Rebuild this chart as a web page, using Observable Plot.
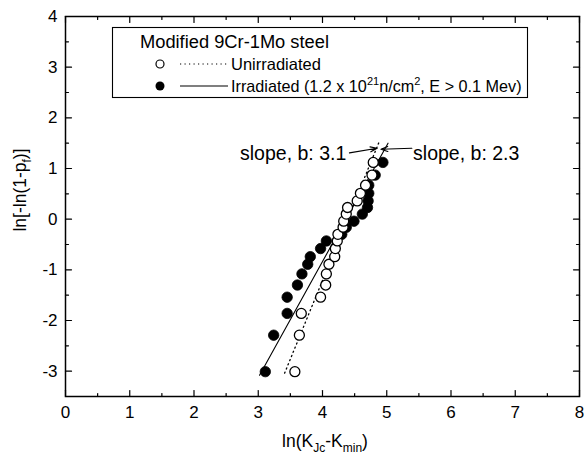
<!DOCTYPE html>
<html>
<head>
<meta charset="utf-8">
<script src="https://cdn.jsdelivr.net/npm/d3@7"></script>
<script src="https://cdn.jsdelivr.net/npm/@observablehq/plot@0.6"></script>
<style>
  html, body { margin: 0; padding: 0; background: #fff; }
  #chart { width: 584px; height: 460px; }
</style>
</head>
<body>
<div id="chart"></div>
<script>
// ---- data ----
const rankY = [-3.01, -2.29, -1.86, -1.54, -1.30, -1.08, -0.89, -0.74, -0.58, -0.43,
               -0.30, -0.16, -0.04, 0.10, 0.23, 0.36, 0.51, 0.67, 0.87, 1.12];
const unirrX = [3.57, 3.64, 3.67, 3.97, 4.05, 4.06, 4.10, 4.19, 4.20, 4.23,
                4.24, 4.32, 4.33, 4.37, 4.39, 4.54, 4.59, 4.67, 4.77, 4.79];
const irrX = [3.11, 3.24, 3.45, 3.45, 3.61, 3.68, 3.77, 3.81, 3.97, 4.06,
              4.30, 4.37, 4.49, 4.62, 4.70, 4.71, 4.72, 4.72, 4.82, 4.94];
// fitted lines (end points)
const fitUnirrX = [3.41, 4.88];
const fitUnirrY = [-3.04, 1.52];
const fitIrrX = [3.02, 5.02];
const fitIrrY = [-3.08, 1.50];
// annotations
const annoLeftText = ["slope, b: 3.1"];
const annoLeftX = [4.37];
const annoLeftY = [1.29];
const annoRightText = ["slope, b: 2.3"];
const annoRightX = [5.41];
const annoRightY = [1.29];
const arrowX1 = [4.42, 5.39];
const arrowY1 = [1.31, 1.40];
const arrowX2 = [4.85, 4.91];
const arrowY2 = [1.40, 1.38];
// ticks
const xMajor = [0, 1, 2, 3, 4, 5, 6, 7, 8];
const xMinor = [0.5, 1.5, 2.5, 3.5, 4.5, 5.5, 6.5, 7.5];
const yMajor = [-3, -2, -1, 0, 1, 2, 3, 4];
const yMinor = [-2.5, -1.5, -0.5, 0.5, 1.5, 2.5, 3.5];
const legendTitle = "Modified 9Cr-1Mo steel";
const legendUnirr = "Unirradiated";

const unirr = rankY.map((y, i) => ({x: unirrX[i], y}));
const irr = rankY.map((y, i) => ({x: irrX[i], y}));
const lineU = fitUnirrX.map((x, i) => ({x, y: fitUnirrY[i]}));
const lineI = fitIrrX.map((x, i) => ({x, y: fitIrrY[i]}));
const annosL = annoLeftText.map((t, i) => ({t, x: annoLeftX[i], y: annoLeftY[i]}));
const annosR = annoRightText.map((t, i) => ({t, x: annoRightX[i], y: annoRightY[i]}));
const arrows = arrowX1.map((x1, i) => ({x1, y1: arrowY1[i], x2: arrowX2[i], y2: arrowY2[i]}));

const tickShape = {draw(context, l) { context.moveTo(0, 0); context.lineTo(0, -l); }};
function ticks(values, dim, frameAnchor, rotate, length) {
  const opts = {frameAnchor, rotate, length, anchor: "start", shape: tickShape, stroke: "black", strokeWidth: 1.2};
  opts[dim] = d => d;
  return Plot.vector(values, opts);
}
const fmt = d => String(d);

const plot = Plot.plot({
  width: 584,
  height: 460,
  marginLeft: 65,
  marginRight: 5,
  marginTop: 16,
  marginBottom: 64,
  x: {domain: [0, 8]},
  y: {domain: [-3.5, 4]},
  style: {fontFamily: "'Liberation Sans', Arial, sans-serif", fontSize: "16px", color: "black", background: "white"},
  marks: [
    Plot.axisX({ticks: xMajor, tickFormat: fmt, tickSize: 0, tickPadding: 9, label: null, fontSize: 17}),
    Plot.axisY({ticks: yMajor, tickFormat: fmt, tickSize: 0, tickPadding: 8, label: null, fontSize: 17}),
    ticks(xMajor, "x", "bottom", 0, 6),
    ticks(xMinor, "x", "bottom", 0, 3),
    ticks(xMajor, "x", "top", 180, 6),
    ticks(xMinor, "x", "top", 180, 3),
    ticks(yMajor, "y", "left", 90, 6),
    ticks(yMinor, "y", "left", 90, 3),
    ticks(yMajor, "y", "right", 270, 6),
    ticks(yMinor, "y", "right", 270, 3),
    Plot.line(lineU, {x: "x", y: "y", stroke: "black", strokeWidth: 1.3, strokeDasharray: "1.2,3.3"}),
    Plot.line(lineI, {x: "x", y: "y", stroke: "black", strokeWidth: 1.1}),
    Plot.dot(irr, {x: "x", y: "y", r: 5.2, fill: "black", stroke: "black", strokeWidth: 0.8}),
    Plot.dot(unirr, {x: "x", y: "y", r: 5, fill: "white", stroke: "black", strokeWidth: 1.3}),
    Plot.arrow(arrows, {x1: "x1", y1: "y1", x2: "x2", y2: "y2", stroke: "black", strokeWidth: 1.2, headLength: 9, headAngle: 40}),
    Plot.text(annosL, {x: "x", y: "y", text: "t", textAnchor: "end", fontSize: 19.5, fill: "black"}),
    Plot.text(annosR, {x: "x", y: "y", text: "t", textAnchor: "start", fontSize: 19.5, fill: "black"}),
    Plot.frame({stroke: "black", strokeWidth: 1.5})
  ]
});

document.getElementById("chart").appendChild(plot);

const svg = d3.select(plot);
const font = "'Liberation Sans', Arial, sans-serif";

// axis labels with subscripts
const xl = svg.append("text").attr("x", 325).attr("y", 447).attr("text-anchor", "middle")
  .attr("font-size", 17.5).attr("font-family", font).attr("fill", "black");
xl.append("tspan").text("ln(K");
xl.append("tspan").attr("font-size", 12).attr("dy", 5).text("Jc");
xl.append("tspan").attr("dy", -5).text("-K");
xl.append("tspan").attr("font-size", 12).attr("dy", 5).text("min");
xl.append("tspan").attr("dy", -5).text(")");

const yl = svg.append("text").attr("transform", "translate(26,190) rotate(-90)").attr("text-anchor", "middle")
  .attr("font-size", 17.5).attr("font-family", font).attr("fill", "black");
yl.append("tspan").text("ln[-ln(1-p");
yl.append("tspan").attr("font-size", 12).attr("dy", 5).text("f");
yl.append("tspan").attr("dy", -5).text(")]");

// legend
const lg = svg.append("g").attr("font-family", font).attr("fill", "black").attr("text-anchor", "start");
lg.append("rect").attr("x", 112.5).attr("y", 27.5).attr("width", 415).attr("height", 70)
  .attr("fill", "white").attr("stroke", "black").attr("stroke-width", 1.1);
lg.append("text").attr("x", 140).attr("y", 47.5).attr("font-size", 18.3).text(legendTitle);
lg.append("circle").attr("cx", 160).attr("cy", 64).attr("r", 4).attr("fill", "white").attr("stroke", "black").attr("stroke-width", 1.2);
lg.append("line").attr("x1", 180).attr("x2", 228).attr("y1", 64).attr("y2", 64)
  .attr("stroke", "black").attr("stroke-width", 1.2).attr("stroke-dasharray", "1.2,3.3");
lg.append("text").attr("x", 231).attr("y", 69.5).attr("font-size", 16.5).text(legendUnirr);
lg.append("circle").attr("cx", 160).attr("cy", 86).attr("r", 4.5).attr("fill", "black");
lg.append("line").attr("x1", 180).attr("x2", 228).attr("y1", 86).attr("y2", 86)
  .attr("stroke", "black").attr("stroke-width", 1.1);
const it = lg.append("text").attr("x", 231).attr("y", 92).attr("font-size", 16.2);
it.append("tspan").text("Irradiated (1.2 x 10");
it.append("tspan").attr("font-size", 11).attr("dy", -7).text("21");
it.append("tspan").attr("dy", 7).text("n/cm");
it.append("tspan").attr("font-size", 11).attr("dy", -7).text("2");
it.append("tspan").attr("dy", 7).text(", E > 0.1 Mev)");
</script>
</body>
</html>
